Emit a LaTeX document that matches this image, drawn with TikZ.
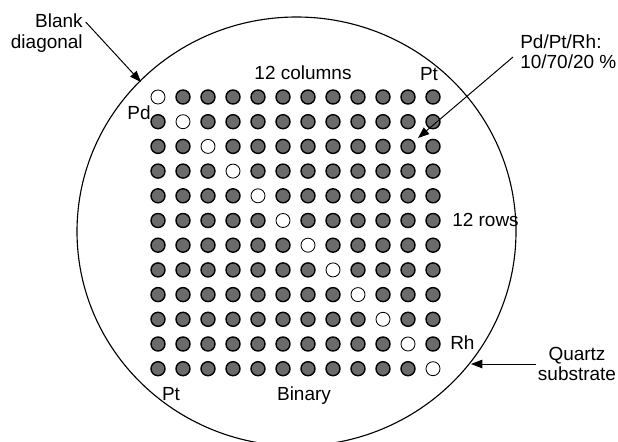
\documentclass[tikz,border=0pt]{standalone}
\usepackage{fontspec}
\setmainfont{Liberation Sans}
\usetikzlibrary{arrows.meta}

\begin{document}
\begin{tikzpicture}[x=0.025cm, y=-0.025cm, >={Triangle[length=8pt,width=6pt]},
    spot/.style={circle, draw, line width=1pt, fill=black!58, minimum size=0.35cm, inner sep=0pt},
    blank/.style={spot, fill=white, line width=0.6pt},
    lbl/.style={font=\fontsize{13.5}{14.5}\selectfont, inner sep=0pt},
    pointer/.style={->, line width=0.7pt}]
\useasboundingbox (0,0) rectangle (618,441);
% quartz wafer
\begin{scope}
\clip (0,0) rectangle (618,441);
\draw[line width=0.8pt] (296.5,231.5) ellipse [x radius=219.5, y radius=214.5];
\end{scope}
% 12 x 12 library, empty spots on the diagonal
\foreach \r in {0,...,11}
  \foreach \c in {0,...,11} {
    \ifnum\r=\c
      \node[blank] (d-\r-\c) at (158+25*\c, 97+24.7*\r) {};
    \else
      \node[spot] (d-\r-\c) at (158+25*\c, 97+24.7*\r) {};
    \fi
  }
% labels
\node[lbl, align=right, anchor=east] (blankdiag) at (83,33) {Blank\\diagonal};
\node[lbl, anchor=east] (pd) at (151,113) {Pd};
\node[lbl] (cols) at (303,73) {12 columns};
\node[lbl] (pttop) at (429,74) {Pt};
\node[lbl, align=left, anchor=west] (ratio) at (520,52) {Pd/Pt/Rh:\\10/70/20 \%};
\node[lbl, anchor=west] (rows) at (452,220) {12 rows};
\node[lbl, anchor=west] (rh) at (450,343) {Rh};
\node[lbl, align=center] (quartz) at (577,364) {Quartz\\substrate};
\node[lbl, anchor=base] (ptbot) at (171,400) {Pt};
\node[lbl, anchor=base] (binary) at (304,400) {Binary};
% pointers
\coordinate (blanktip) at (141,82);
\coordinate (ratiotip) at (418,138);
\coordinate (quartztip) at (471,364);
\draw[pointer] ([xshift=2pt,yshift=-6pt]blankdiag.north east) -- (blanktip);
\draw[pointer] ([shift={(-7,5)}]ratio.west) -- (ratiotip);
\draw[pointer] ([xshift=-1pt]quartz.west) -- (quartztip);
\end{tikzpicture}
\end{document}
